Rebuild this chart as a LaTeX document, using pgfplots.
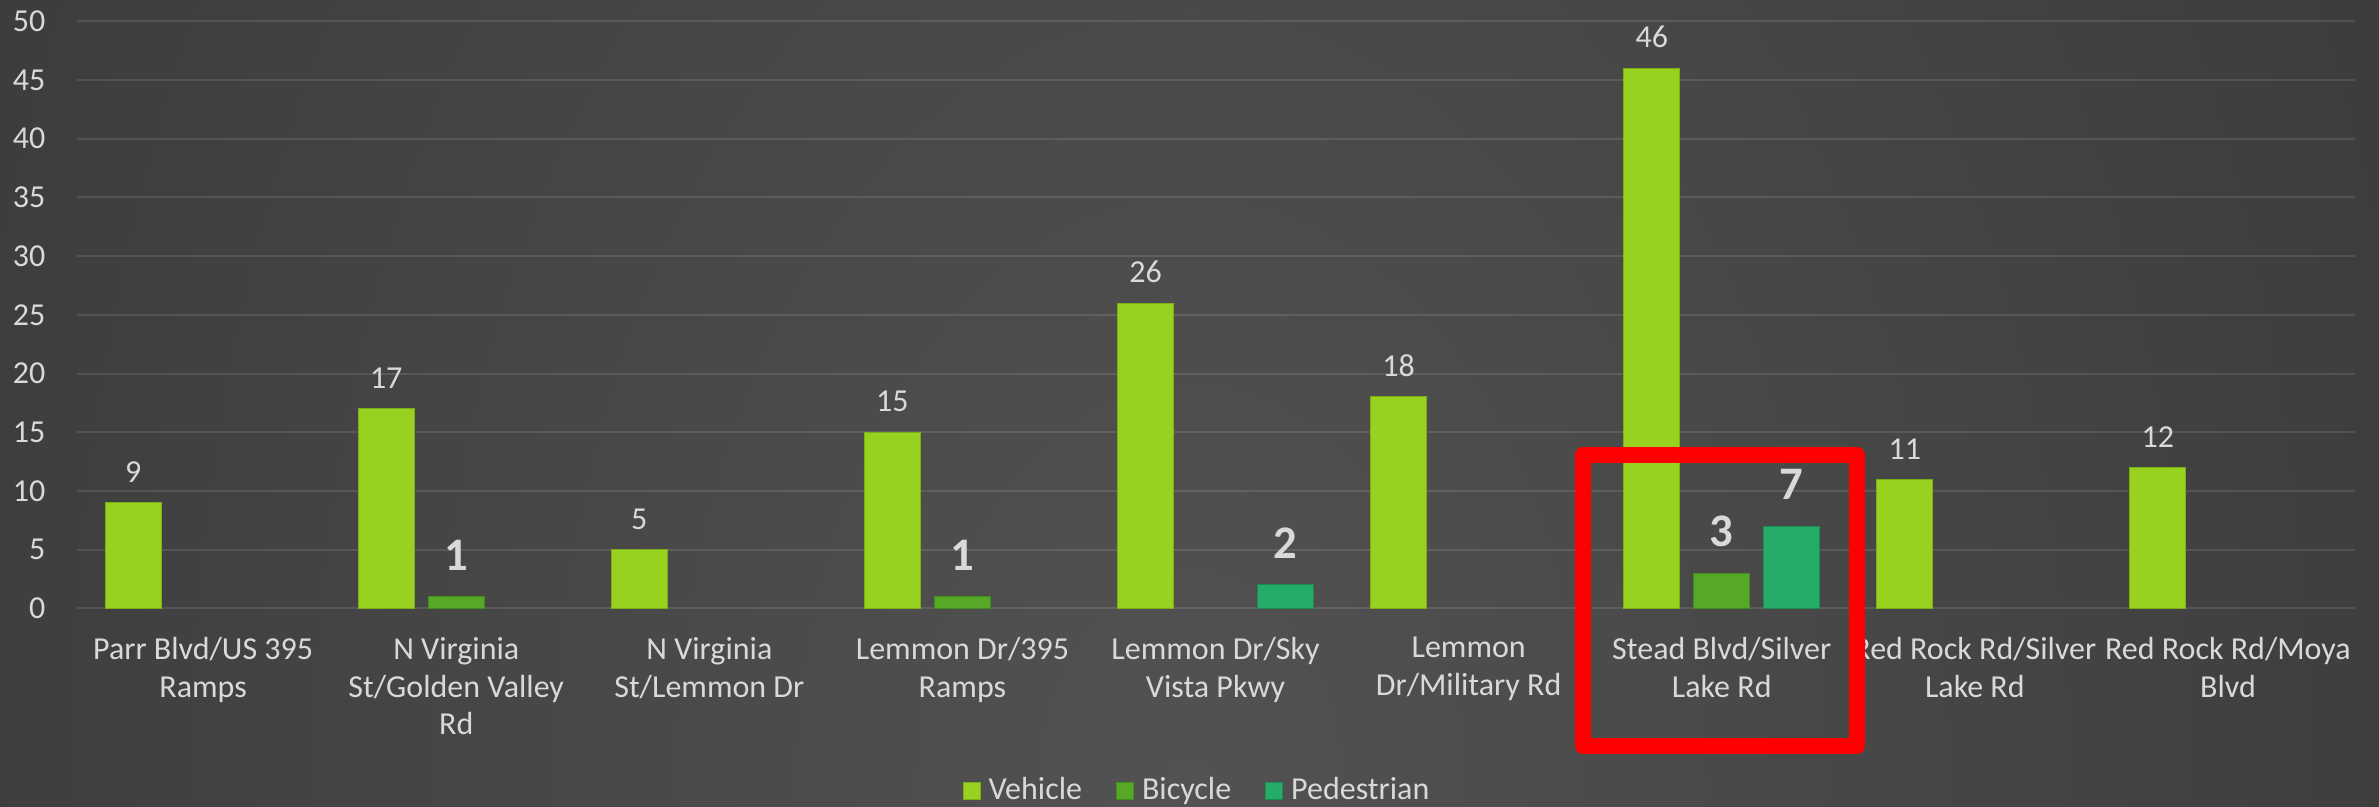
\documentclass[border=0pt]{standalone}
\usepackage{fontspec}
\setmainfont{Carlito}
\usepackage{pgfplots}
\usepackage{pgfplotstable}
\pgfplotsset{compat=1.18}
\definecolor{veh}{HTML}{98D11F}
\definecolor{vehd}{HTML}{7BAE17}
\definecolor{bic}{HTML}{57A826}
\definecolor{bicd}{HTML}{408C1C}
\definecolor{ped}{HTML}{24AC68}
\definecolor{pedd}{HTML}{1A8C52}
\definecolor{txt}{HTML}{D9D9D9}
\definecolor{bgin}{HTML}{525252}
\definecolor{bgout}{HTML}{272727}
\definecolor{zeroline}{HTML}{A6A6A6}
\pgfdeclareradialshading{bgshade}{\pgfpoint{0bp}{0bp}}{color(0bp)=(bgin); color(25bp)=(bgout); color(50bp)=(bgout)}

\pgfplotstableread{
x y
0 9
1 17
2 5
3 15
4 26
5 18
6 46
7 11
8 12
}\vehicle
\pgfplotstableread{
x y
1 1
3 1
6 3
}\bicycle
\pgfplotstableread{
x y
4 2
6 7
}\pedestrian

\begin{document}
\begin{tikzpicture}
\begin{scope}[shift={(-22.98pt,-59.31pt)}, x=0.3pt, y=0.3pt]
  \fill[bgout] (0,0) rectangle (2379,806);
  \begin{scope}
    \clip (0,0) rectangle (2379,806);
    \shade[shading=bgshade] (-1410,-4000) rectangle (3790,4000);
  \end{scope}
\end{scope}
\begin{axis}[
  at={(0,0)}, anchor=south west,
  scale only axis, width=683.37pt, height=176.1pt,
  xmin=-0.5, xmax=8.5, ymin=0, ymax=50,
  ytick={5,10,...,50},
  extra y ticks={0},
  extra y tick style={grid style={draw=zeroline, line width=0.8pt, opacity=1}},
  xtick={0,...,8},
  xticklabels={
    {Parr Blvd/US 395\\Ramps},
    {N Virginia\\St/Golden Valley\\Rd},
    {N Virginia\\St/Lemmon Dr},
    {Lemmon Dr/395\\Ramps},
    {Lemmon Dr/Sky\\Vista Pkwy},
    {Lemmon\\Dr/Military Rd},
    {Stead Blvd/Silver\\Lake Rd},
    {Red Rock Rd/Silver\\Lake Rd},
    {Red Rock Rd/Moya\\Blvd}},
  axis line style={draw=none},
  major tick length=0pt,
  tick style={draw=none},
  ymajorgrids,
  major grid style={draw=white, opacity=0.11, line width=0.6pt},
  ticklabel style={font=\fontsize{9.6}{11.4}\selectfont, text=txt},
  yticklabel style={anchor=east, inner sep=0pt, xshift=-9.2pt},
  xticklabel style={anchor=north, align=center, inner sep=0pt, yshift=-8.4pt},
  /pgf/number format/assume math mode=true,
  ybar, bar width=0.221,
  clip=false,
  legend style={at={(0.4914,-0.3113)}, anchor=center, draw=none, fill=none,
    legend columns=3, font=\fontsize{9.6}{11.4}\selectfont, text=txt,
    inner sep=0pt, nodes={inner sep=0pt},
    /tikz/every odd column/.append style={column sep=2.4pt},
    /tikz/every even column/.append style={column sep=10.2pt}},
  legend image code/.code={\draw[#1, line width=0.3pt] (0pt,-2.6pt) rectangle (5.1pt,2.6pt);},
]
\addplot[fill=veh, draw=vehd, line width=0.3pt, bar shift=-0.2766,
  nodes near coords,
  nodes near coords style={font=\fontsize{9.6}{11.4}\selectfont, text=txt, anchor=south, inner sep=0pt, yshift=5.9pt},
  /pgf/number format/assume math mode=true]
  table[x=x,y=y] {\vehicle};
\addplot[fill=bic, draw=bicd, line width=0.3pt, bar shift=0,
  nodes near coords,
  nodes near coords style={font=\bfseries\fontsize{14}{16}\selectfont, text=txt, anchor=south, inner sep=0pt, yshift=7.7pt},
  /pgf/number format/assume math mode=true]
  table[x=x,y=y] {\bicycle};
\addplot[fill=ped, draw=pedd, line width=0.3pt, bar shift=0.2766,
  nodes near coords,
  nodes near coords style={font=\bfseries\fontsize{14}{16}\selectfont, text=txt, anchor=south, inner sep=0pt, yshift=7.7pt},
  /pgf/number format/assume math mode=true]
  table[x=x,y=y] {\pedestrian};
\legend{Vehicle, Bicycle, Pedestrian}
\coordinate (rbA) at (axis cs:5.452,-11.73);
\coordinate (rbB) at (axis cs:6.534,13.06);
\end{axis}
\draw[red, line width=4.8pt, line join=round] (rbA) rectangle (rbB);
\pgfresetboundingbox
\path (-22.98pt,-59.31pt) rectangle (690.72pt,182.49pt);
\end{tikzpicture}
\end{document}
